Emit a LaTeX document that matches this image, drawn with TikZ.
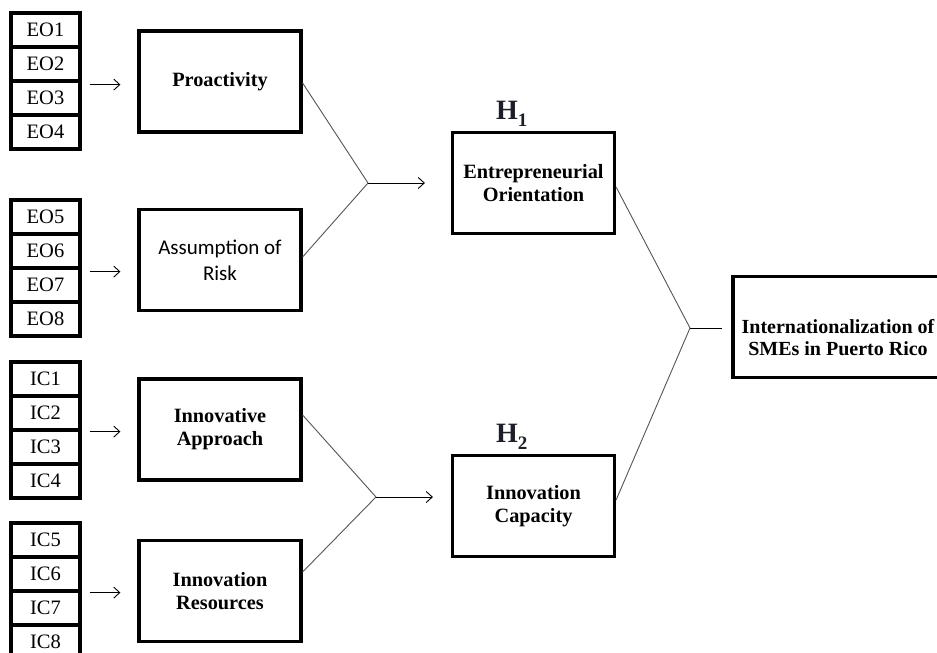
\documentclass[tikz,border=0pt]{standalone}
\usepackage{fontspec}
\setmainfont{Liberation Serif}
\newfontfamily\calibrifont{Carlito}
\usetikzlibrary{arrows.meta}
\definecolor{conn}{RGB}{85,85,85}
\definecolor{hcol}{RGB}{28,30,40}
\begin{document}
\begin{tikzpicture}[x=1pt,y=-1pt,
  cell/.style={draw, line width=3.2pt, minimum width=69pt, minimum height=34pt, inner sep=0pt, font=\fontsize{20.5}{22}\selectfont},
  bigbox/.style={draw, line width=3.2pt, minimum width=162pt, minimum height=101pt, inner sep=0pt, align=center, font=\bfseries\fontsize{20.3}{23}\selectfont},
  plainbox/.style={bigbox, font=\calibrifont\fontsize{21}{26}\selectfont},
  txt/.style={inner sep=0pt, align=center, font=\bfseries\fontsize{20}{22}\selectfont},
  hlab/.style={inner sep=0pt, anchor=base west, text=hcol, font=\bfseries\fontsize{28}{30}\selectfont},
  arr/.style={line width=0.9pt, -{Straight Barb[length=6pt,width=11pt,line width=0.9pt]}},
  link/.style={line width=0.9pt, draw=conn}
]
\useasboundingbox (0,0) rectangle (937,653);
\fill[white] (0,0) rectangle (937,653);

% indicator stacks
\node[cell] (eo1) at (45.5,30) {EO1};
\node[cell] (eo2) at (45.5,64) {EO2};
\node[cell] (eo3) at (45.5,98) {EO3};
\node[cell] (eo4) at (45.5,132) {EO4};

\node[cell] (eo5) at (45.5,217) {EO5};
\node[cell] (eo6) at (45.5,251) {EO6};
\node[cell] (eo7) at (45.5,285) {EO7};
\node[cell] (eo8) at (45.5,319) {EO8};

\node[cell] (ic1) at (45.5,379) {IC1};
\node[cell] (ic2) at (45.5,413) {IC2};
\node[cell] (ic3) at (45.5,447) {IC3};
\node[cell] (ic4) at (45.5,481) {IC4};

\node[cell] (ic5) at (45.5,540) {IC5};
\node[cell] (ic6) at (45.5,574) {IC6};
\node[cell] (ic7) at (45.5,608) {IC7};
\node[cell] (ic8) at (45.5,642) {IC8};

% construct boxes
\node[bigbox] (pro) at (220,81.5) {Proactivity};
\node[plainbox] (ar) at (220,260) {Assumption of\\Risk};
\node[bigbox] (ia) at (220,429.5) {Innovative\\Approach};
\node[bigbox] (ir) at (220,591) {Innovation\\Resources};

\node[bigbox] (eo) at (533.5,183) {Entrepreneurial\\Orientation};
\node[bigbox] (ic) at (533.5,506) {Innovation\\Capacity};

\node[bigbox, minimum width=210pt] (int) at (838,327) {};
\node[txt] (intlabel) at ([yshift=-11pt]int.center) {Internationalization of\\SMEs in Puerto Rico};

\node[hlab] (h1) at (496,119) {H\raisebox{-7pt}{\fontsize{19}{20}\selectfont 1}};
\node[hlab] (h2) at (496,442) {H\raisebox{-7pt}{\fontsize{19}{20}\selectfont 2}};

% junctions
\coordinate (j1) at (368,183);
\coordinate (j2) at (376,497);
\coordinate (j3) at (690,328);

% indicator arrows
\draw[arr, shorten <=8pt, shorten >=17pt] ([yshift=-2pt]eo2.south east) -- ([yshift=-2pt]eo2.south east -| pro.west);
\draw[arr, shorten <=8pt, shorten >=17pt] ([yshift=-2pt]eo6.south east) -- ([yshift=-2pt]eo6.south east -| ar.west);
\draw[arr, shorten <=8pt, shorten >=17pt] (ic2.south east) -- (ic2.south east -| ia.west);
\draw[arr, shorten <=8pt, shorten >=17pt] (ic6.south east) -- (ic6.south east -| ir.west);

% converging links
\draw[link] ([yshift=-1.5pt]pro.east) -- (j1);
\draw[link] ([yshift=3pt]ar.east) -- (j1);
\draw[arr, shorten >=26pt] (j1) -- (j1 -| eo.west);
\draw[link] ([yshift=14.5pt]ia.east) -- (j2);
\draw[link] ([yshift=19pt]ir.east) -- (j2);
\draw[arr, shorten >=18pt] (j2) -- (j2 -| ic.west);

\draw[link] ([yshift=-4pt]eo.east) -- (j3);
\draw[link] ([yshift=6pt]ic.east) -- (j3);
\draw[line width=0.9pt, shorten >=9pt] (j3) -- (j3 -| int.west);
\end{tikzpicture}
\end{document}
